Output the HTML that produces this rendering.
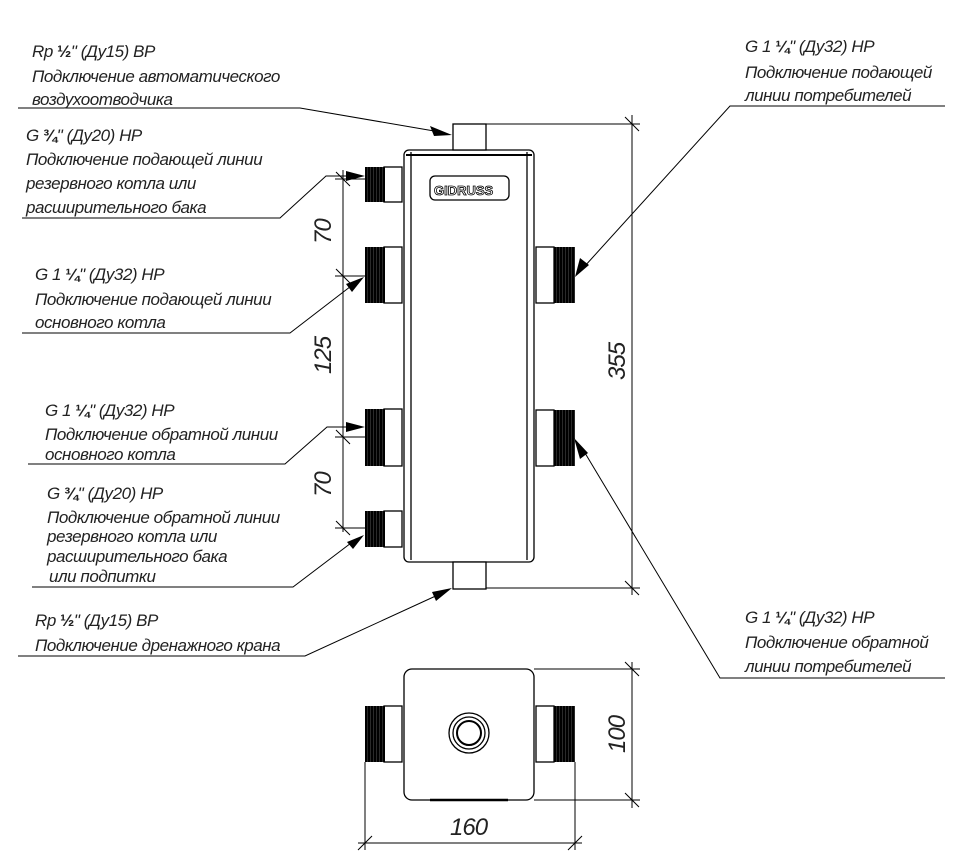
<!DOCTYPE html>
<html><head><meta charset="utf-8"><style>
html,body{margin:0;padding:0;background:#fff;}
svg{display:block;}
text{font-family:"Liberation Sans",sans-serif;font-style:italic;font-size:17px;letter-spacing:-0.45px;fill:#222;}
.d{font-size:24px;letter-spacing:-1px;}
</style></head><body>
<svg width="962" height="863" viewBox="0 0 962 863" xmlns="http://www.w3.org/2000/svg">
<defs>
<pattern id="th" width="3" height="4" patternUnits="userSpaceOnUse"><rect width="3" height="4" fill="#000"/><rect x="1" width="0.5" height="4" fill="#555"/></pattern>
</defs>
<g stroke="#000" fill="none" stroke-width="1.3">
<rect x="404" y="150" width="130" height="412" rx="5" fill="#fff"/>
<line x1="411" y1="152" x2="411" y2="560"/>
<line x1="527" y1="152" x2="527" y2="560"/>
<line x1="406" y1="155" x2="532" y2="155" stroke-width="2"/>
<rect x="453" y="124" width="33" height="26" fill="#fff"/>
<rect x="453" y="562" width="33" height="27" fill="#fff"/>
<rect x="430" y="176" width="79" height="24" rx="5"/>
<rect x="384" y="167" width="18" height="35" fill="#fff"/>
<rect x="384" y="247" width="18" height="56" fill="#fff"/>
<rect x="384" y="409" width="18" height="57" fill="#fff"/>
<rect x="384" y="511" width="18" height="36" fill="#fff"/>
<rect x="536" y="247" width="18" height="56" fill="#fff"/>
<rect x="536" y="410" width="18" height="56" fill="#fff"/>
</g>
<text x="434" y="195" style="font-size:13px;font-weight:bold;font-style:normal;letter-spacing:0;fill:#fff;stroke:#000;stroke-width:0.8">GIDRUSS</text>
<g fill="url(#th)">
<rect x="365" y="167" width="20" height="35"/>
<rect x="365" y="247" width="20" height="56"/>
<rect x="365" y="409" width="20" height="57"/>
<rect x="365" y="511" width="20" height="36"/>
<rect x="554" y="247" width="21" height="56"/>
<rect x="554" y="410" width="21" height="56"/>
</g>
<g stroke="#000" fill="none" stroke-width="1.3">
<rect x="384" y="706" width="18" height="56" fill="#fff"/>
<rect x="536" y="706" width="18" height="56" fill="#fff"/>
<rect x="404" y="669" width="130" height="131" rx="8" fill="#fff"/>
<line x1="430" y1="800" x2="508" y2="800" stroke-width="2.5"/>
<circle cx="469" cy="733" r="20"/>
<circle cx="469" cy="733" r="16"/>
<circle cx="469" cy="733" r="12" stroke-width="2"/>
</g>
<g fill="url(#th)">
<rect x="365" y="706" width="20" height="56"/>
<rect x="554" y="706" width="21" height="56"/>
</g>
<g stroke="#000" stroke-width="1" fill="none">
<line x1="343" y1="170" x2="343" y2="532"/>
<line x1="335" y1="179" x2="365" y2="179"/>
<line x1="335" y1="276" x2="365" y2="276"/>
<line x1="335" y1="437" x2="365" y2="437"/>
<line x1="335" y1="528" x2="365" y2="528"/>
<path d="M336 172l14 14M336 269l14 14M336 430l14 14M336 521l14 14"/>
<line x1="632" y1="115" x2="632" y2="595"/>
<line x1="486" y1="124" x2="640" y2="124"/>
<line x1="486" y1="588" x2="640" y2="588"/>
<path d="M625 117l14 14M625 581l14 14"/>
<line x1="632" y1="662" x2="632" y2="808"/>
<line x1="534" y1="669" x2="640" y2="669"/>
<line x1="534" y1="800" x2="640" y2="800"/>
<path d="M625 662l14 14M625 793l14 14"/>
<line x1="365" y1="762" x2="365" y2="850"/>
<line x1="575" y1="762" x2="575" y2="850"/>
<line x1="358" y1="843" x2="582" y2="843"/>
<path d="M358 850l14 -14M568 850l14 -14"/>
</g>
<text class="d" transform="translate(331,244) rotate(-90)">70</text>
<text class="d" transform="translate(331,374) rotate(-90)">125</text>
<text class="d" transform="translate(331,497) rotate(-90)">70</text>
<text class="d" transform="translate(625,380) rotate(-90)">355</text>
<text class="d" transform="translate(625,753) rotate(-90)">100</text>
<text class="d" x="450" y="835">160</text>
<g stroke="#000" stroke-width="1" fill="none">
<polyline points="18,108 300,108 440,132"/>
<polyline points="22,218 280,218 326,176 360,176"/>
<polyline points="22,333 290,333 355,283"/>
<polyline points="28,464 285,464 327,427 360,427"/>
<polyline points="32,587 293,587 355,540"/>
<polyline points="18,656 305,656 440,594"/>
<polyline points="945,106 730,106 584,267"/>
<polyline points="945,678 720,678 582,448"/>
</g>
<g fill="#000">
<polygon points="452,135 430,126 434,136"/>
<polygon points="365,176 346,171 346,181"/>
<polygon points="364,277 346,284 352,292"/>
<polygon points="365,427 346,422 346,432"/>
<polygon points="364,535 347,542 353,549"/>
<polygon points="452,588 432,592 436,601"/>
<polygon points="575,277 580,258 589,265"/>
<polygon points="574,438 588,453 580,459"/>
</g>
<text x="32" y="57">Rp <tspan font-weight="bold" font-style="normal">½</tspan>" (Ду15) ВР</text>
<text x="32" y="82">Подключение автоматического</text>
<text x="32" y="105">воздухоотводчика</text>
<text x="26" y="141">G <tspan font-weight="bold" font-style="normal">¾</tspan>" (Ду20) НР</text>
<text x="26" y="165">Подключение подающей линии</text>
<text x="26" y="189">резервного котла или</text>
<text x="26" y="213">расширительного бака</text>
<text x="35" y="280">G 1 <tspan font-weight="bold" font-style="normal">¼</tspan>" (Ду32) НР</text>
<text x="35" y="305">Подключение подающей линии</text>
<text x="35" y="328">основного котла</text>
<text x="45" y="416">G 1 <tspan font-weight="bold" font-style="normal">¼</tspan>" (Ду32) НР</text>
<text x="45" y="440">Подключение обратной линии</text>
<text x="45" y="460">основного котла</text>
<text x="47" y="499">G <tspan font-weight="bold" font-style="normal">¾</tspan>" (Ду20) НР</text>
<text x="47" y="523">Подключение обратной линии</text>
<text x="47" y="542">резервного котла  или</text>
<text x="47" y="562">расширительного бака</text>
<text x="49" y="582">или подпитки</text>
<text x="35" y="626">Rp <tspan font-weight="bold" font-style="normal">½</tspan>" (Ду15) ВР</text>
<text x="35" y="651">Подключение дренажного крана</text>
<text x="745" y="52">G 1 <tspan font-weight="bold" font-style="normal">¼</tspan>" (Ду32) НР</text>
<text x="745" y="78">Подключение подающей</text>
<text x="745" y="101">линии потребителей</text>
<text x="745" y="623">G 1 <tspan font-weight="bold" font-style="normal">¼</tspan>" (Ду32) НР</text>
<text x="745" y="648">Подключение обратной</text>
<text x="745" y="672">линии потребителей</text>
</svg>
</body></html>
